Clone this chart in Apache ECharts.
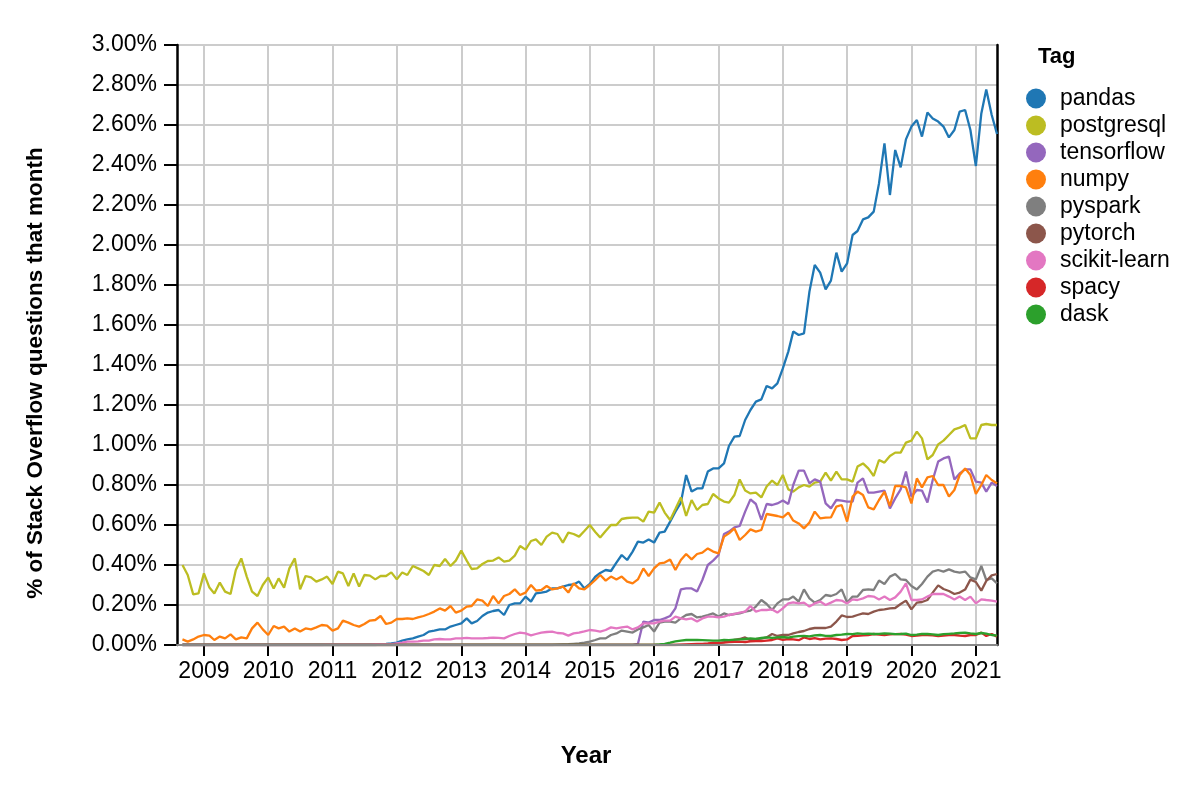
<!DOCTYPE html>
<html><head><meta charset="utf-8">
<script src="https://cdn.jsdelivr.net/npm/echarts@6/dist/echarts.min.js"></script>
<style>html,body{margin:0;padding:0;background:#fff}#c{width:1188px;height:790px}</style>
</head><body><div id="c"></div>
<script>
const tags = ['pandas','postgresql','tensorflow','numpy','pyspark','pytorch','scikit-learn','spacy','dask'];
const colors = ['#1f77b4','#bcbd22','#9467bd','#ff7f0e','#7f7f7f','#8c564b','#e377c2','#d62728','#2ca02c'];
const yearTickLabels = [2009,2010,2011,2012,2013,2014,2015,2016,2017,2018,2019,2020,2021];
// monthly values (% of questions), first month 2008-09, last 2021-05
const pandas = [
0,0,0,0,
0,0,0,0,0,0,0,0,0,0,0,0,
0,0,0,0,0,0,0,0,0,0,0,0,
0,0,0,0,0,0,0,0,0,0.003,0.005,0.008,
0.012,0.022,0.028,0.033,0.042,0.05,0.067,0.072,0.078,0.078,0.092,0.10,
0.108,0.133,0.108,0.12,0.145,0.162,0.17,0.175,0.15,0.20,0.208,0.208,
0.242,0.217,0.258,0.262,0.267,0.283,0.283,0.292,0.30,0.303,0.317,0.283,
0.305,0.342,0.36,0.375,0.37,0.412,0.45,0.425,0.467,0.517,0.512,0.528,
0.512,0.562,0.567,0.617,0.667,0.712,0.85,0.767,0.783,0.783,0.867,0.883,
0.883,0.908,0.995,1.042,1.045,1.125,1.175,1.217,1.228,1.295,1.283,1.308,
1.383,1.467,1.567,1.55,1.558,1.767,1.90,1.862,1.778,1.822,1.962,1.867,
1.908,2.05,2.07,2.128,2.138,2.167,2.308,2.508,2.25,2.475,2.388,2.528,
2.592,2.625,2.542,2.662,2.633,2.617,2.592,2.538,2.575,2.667,2.675,2.575,
2.395,2.658,2.778,2.65,2.555];
const postgresql = [
0.40,0.35,0.253,0.258,
0.358,0.287,0.258,0.312,0.267,0.255,0.375,0.433,0.342,0.267,0.245,0.30,
0.338,0.283,0.333,0.287,0.383,0.433,0.278,0.345,0.338,0.317,0.328,0.342,
0.305,0.367,0.358,0.295,0.358,0.292,0.35,0.347,0.328,0.345,0.345,0.363,
0.328,0.363,0.35,0.395,0.383,0.37,0.35,0.40,0.395,0.43,0.395,0.422,
0.472,0.422,0.38,0.383,0.405,0.42,0.422,0.438,0.417,0.422,0.447,0.495,
0.477,0.52,0.528,0.50,0.542,0.562,0.555,0.512,0.562,0.555,0.542,0.57,
0.60,0.565,0.537,0.57,0.60,0.60,0.63,0.635,0.637,0.637,0.617,0.667,
0.662,0.712,0.662,0.625,0.68,0.738,0.645,0.725,0.675,0.70,0.705,0.755,
0.733,0.717,0.712,0.75,0.828,0.772,0.758,0.762,0.738,0.792,0.822,0.80,
0.85,0.778,0.767,0.788,0.80,0.792,0.812,0.817,0.862,0.822,0.867,0.828,
0.828,0.817,0.892,0.908,0.883,0.845,0.925,0.912,0.945,0.962,0.962,1.012,
1.022,1.067,1.033,0.928,0.95,1.003,1.022,1.05,1.078,1.087,1.10,1.033,
1.033,1.10,1.105,1.10,1.10];
const tensorflow = [
0,0,0,0,
0,0,0,0,0,0,0,0,0,0,0,0,
0,0,0,0,0,0,0,0,0,0,0,0,
0,0,0,0,0,0,0,0,0,0,0,0,
0,0,0,0,0,0,0,0,0,0,0,0,
0,0,0,0,0,0,0,0,0,0,0,0,
0,0,0,0,0,0,0,0,0,0,0,0,
0,0,0,0,0,0,0,0,0,0.005,0.117,0.112,
0.125,0.125,0.133,0.145,0.183,0.278,0.283,0.283,0.267,0.325,0.40,0.422,
0.45,0.555,0.567,0.588,0.595,0.667,0.728,0.705,0.625,0.705,0.70,0.708,
0.722,0.705,0.80,0.872,0.872,0.808,0.828,0.817,0.708,0.683,0.725,0.722,
0.717,0.717,0.812,0.833,0.762,0.762,0.767,0.772,0.683,0.733,0.778,0.867,
0.742,0.775,0.772,0.712,0.825,0.917,0.933,0.942,0.828,0.858,0.878,0.878,
0.817,0.812,0.767,0.812,0.795];
const numpy = [
0.028,0.017,0.028,0.042,
0.05,0.047,0.025,0.042,0.033,0.053,0.028,0.038,0.033,0.083,0.112,0.078,
0.05,0.095,0.083,0.092,0.067,0.083,0.067,0.083,0.078,0.088,0.10,0.097,
0.072,0.083,0.122,0.112,0.10,0.092,0.105,0.122,0.125,0.145,0.105,0.112,
0.13,0.13,0.133,0.13,0.138,0.145,0.155,0.167,0.183,0.172,0.195,0.162,
0.172,0.192,0.195,0.228,0.222,0.195,0.245,0.208,0.245,0.255,0.278,0.25,
0.262,0.30,0.272,0.275,0.295,0.278,0.283,0.292,0.262,0.308,0.283,0.278,
0.30,0.325,0.35,0.322,0.342,0.328,0.342,0.317,0.308,0.328,0.383,0.345,
0.383,0.408,0.412,0.428,0.375,0.425,0.455,0.428,0.455,0.462,0.483,0.467,
0.458,0.542,0.558,0.583,0.525,0.55,0.578,0.567,0.575,0.655,0.65,0.645,
0.638,0.662,0.622,0.608,0.583,0.612,0.667,0.633,0.637,0.638,0.692,0.70,
0.617,0.742,0.767,0.75,0.688,0.678,0.725,0.767,0.695,0.795,0.795,0.788,
0.708,0.833,0.788,0.838,0.845,0.80,0.80,0.742,0.775,0.85,0.883,0.85,
0.755,0.80,0.85,0.825,0.808];
const pyspark = [
0,0,0,0,
0,0,0,0,0,0,0,0,0,0,0,0,
0,0,0,0,0,0,0,0,0,0,0,0,
0,0,0,0,0,0,0,0,0,0,0,0,
0,0,0,0,0,0,0,0,0,0,0,0,
0,0,0,0,0,0,0,0,0,0,0,0,
0,0,0,0,0,0,0.002,0.003,0.004,0.006,0.008,0.012,
0.017,0.025,0.033,0.033,0.05,0.058,0.072,0.067,0.062,0.078,0.088,0.10,
0.067,0.112,0.117,0.117,0.112,0.133,0.15,0.155,0.138,0.142,0.15,0.158,
0.142,0.158,0.15,0.155,0.158,0.167,0.172,0.192,0.225,0.205,0.175,0.208,
0.228,0.228,0.242,0.217,0.278,0.233,0.212,0.225,0.25,0.245,0.255,0.278,
0.212,0.242,0.242,0.275,0.278,0.275,0.322,0.305,0.342,0.355,0.328,0.325,
0.295,0.278,0.305,0.342,0.367,0.375,0.367,0.378,0.367,0.362,0.367,0.338,
0.328,0.395,0.325,0.333,0.308];
const pytorch = [
0,0,0,0,
0,0,0,0,0,0,0,0,0,0,0,0,
0,0,0,0,0,0,0,0,0,0,0,0,
0,0,0,0,0,0,0,0,0,0,0,0,
0,0,0,0,0,0,0,0,0,0,0,0,
0,0,0,0,0,0,0,0,0,0,0,0,
0,0,0,0,0,0,0,0,0,0,0,0,
0,0,0,0,0,0,0,0,0,0,0,0,
0,0,0,0,0,0,0,0,0,0,0,0,
0.008,0.014,0.02,0.026,0.03,0.038,0.024,0.03,0.032,0.038,0.055,0.045,
0.05,0.05,0.058,0.065,0.07,0.08,0.085,0.085,0.085,0.092,0.117,0.148,
0.14,0.142,0.15,0.158,0.155,0.167,0.175,0.178,0.183,0.185,0.205,0.222,
0.178,0.212,0.215,0.225,0.262,0.298,0.28,0.27,0.255,0.262,0.277,0.327,
0.315,0.272,0.32,0.348,0.355];
const scikitLearn = [
0,0,0,0,
0,0,0,0,0,0,0,0,0,0,0,0,
0,0,0,0,0,0,0,0,0,0,0,0.002,
0.002,0.002,0.002,0.002,0.002,0.002,0.002,0.002,0.004,0.004,0.004,0.004,
0.008,0.012,0.017,0.017,0.018,0.022,0.022,0.028,0.03,0.028,0.028,0.033,
0.033,0.036,0.033,0.033,0.033,0.035,0.037,0.036,0.033,0.045,0.055,0.062,
0.058,0.048,0.055,0.062,0.065,0.067,0.06,0.058,0.047,0.058,0.062,0.068,
0.075,0.072,0.067,0.075,0.088,0.083,0.088,0.092,0.078,0.088,0.108,0.108,
0.108,0.117,0.122,0.122,0.142,0.133,0.128,0.133,0.117,0.133,0.142,0.142,
0.138,0.142,0.15,0.155,0.162,0.167,0.195,0.167,0.175,0.175,0.178,0.162,
0.183,0.208,0.213,0.208,0.212,0.192,0.208,0.217,0.20,0.212,0.225,0.222,
0.208,0.228,0.225,0.233,0.245,0.242,0.228,0.242,0.225,0.238,0.267,0.308,
0.225,0.225,0.228,0.242,0.255,0.255,0.255,0.242,0.228,0.242,0.225,0.242,
0.208,0.228,0.225,0.222,0.217];
const spacy = [
0,0,0,0,
0,0,0,0,0,0,0,0,0,0,0,0,
0,0,0,0,0,0,0,0,0,0,0,0,
0,0,0,0,0,0,0,0,0,0,0,0,
0,0,0,0,0,0,0,0,0,0,0,0,
0,0,0,0,0,0,0,0,0,0,0,0,
0,0,0,0,0,0,0,0,0,0,0,0,
0,0,0,0,0,0,0,0,0,0,0,0,
0,0,0,0,0,0.002,0.003,0.004,0.005,0.006,0.008,0.01,
0.011,0.012,0.014,0.016,0.017,0.015,0.018,0.02,0.019,0.022,0.025,0.033,
0.026,0.03,0.028,0.024,0.038,0.03,0.034,0.028,0.032,0.033,0.03,0.025,
0.028,0.045,0.046,0.048,0.05,0.055,0.052,0.05,0.053,0.054,0.055,0.052,
0.045,0.047,0.05,0.05,0.048,0.045,0.047,0.05,0.05,0.047,0.045,0.05,
0.05,0.062,0.045,0.055,0.042];
const dask = [
0,0,0,0,
0,0,0,0,0,0,0,0,0,0,0,0,
0,0,0,0,0,0,0,0,0,0,0,0,
0,0,0,0,0,0,0,0,0,0,0,0,
0,0,0,0,0,0,0,0,0,0,0,0,
0,0,0,0,0,0,0,0,0,0,0,0,
0,0,0,0,0,0,0,0,0,0,0,0,
0,0,0,0,0,0,0,0,0,0,0,0,
0,0.003,0.006,0.012,0.018,0.022,0.025,0.026,0.025,0.024,0.023,0.022,
0.022,0.025,0.024,0.027,0.028,0.03,0.033,0.031,0.035,0.038,0.036,0.038,
0.04,0.037,0.042,0.044,0.045,0.043,0.048,0.05,0.046,0.045,0.05,0.052,
0.055,0.054,0.058,0.056,0.057,0.055,0.056,0.058,0.057,0.054,0.055,0.057,
0.05,0.052,0.056,0.055,0.053,0.05,0.054,0.056,0.058,0.06,0.062,0.058,
0.055,0.06,0.057,0.05,0.047];
const seriesValues = [pandas, postgresql, tensorflow, numpy, pyspark, pytorch, scikitLearn, spacy, dask];

const FONT = '"Liberation Sans", Arial, Helvetica, sans-serif';
function monthTime(i){ return Date.UTC(2008, 8 + i, 1); } // index 0 = Sep 2008
const yearTicks = yearTickLabels.map(y => Date.UTC(y, 0, 1));
const xMin = Date.UTC(2008, 7, 1), xMax = Date.UTC(2021, 4, 1);

const chart = echarts.init(document.getElementById('c'), null, {renderer:'canvas'});
chart.setOption({
  animation: false,
  backgroundColor: '#fff',
  grid: {left: 177, right: 191, top: 45, bottom: 145, containLabel: false},
  xAxis: [{
    type: 'value', min: xMin, max: xMax, position: 'bottom',
    axisLine: {show: false},
    axisTick: {show: true, length: 11, lineStyle: {color: '#000', width: 2}, customValues: yearTicks},
    axisLabel: {customValues: yearTicks, formatter: v => String(new Date(v).getUTCFullYear()),
      fontSize: 23, color: '#000', fontFamily: FONT, margin: 15},
    splitLine: {show: true, lineStyle: {color: '#cccccc', width: 2}}
  }, {
    type: 'value', min: xMin, max: xMax, position: 'bottom', offset: 0, z: 5,
    axisLine: {show: true, onZero: false, lineStyle: {color: '#888', width: 2}},
    axisTick: {show: false}, axisLabel: {show: false}, splitLine: {show: false}
  }],
  yAxis: [{
    type: 'value', min: 0, max: 3, interval: 0.2, position: 'left',
    axisLine: {show: true, lineStyle: {color: '#000', width: 2.5}},
    axisTick: {show: true, length: 13, lineStyle: {color: '#000', width: 2}},
    axisLabel: {formatter: v => v.toFixed(2) + '%', fontSize: 23, color: '#000', fontFamily: FONT, margin: 20},
    splitLine: {show: true, lineStyle: {color: '#cccccc', width: 2}}
  }, {
    type: 'value', min: 0, max: 3, position: 'right',
    axisLine: {show: true, lineStyle: {color: '#000', width: 2.5}},
    axisTick: {show: false}, axisLabel: {show: false}, splitLine: {show: false}
  }],
  legend: {
    orient: 'vertical', left: 1026, top: 87, padding: 0,
    itemWidth: 20, itemHeight: 20, itemGap: 4,
    data: tags.map(n => ({name: n, icon: 'circle'})),
    textStyle: {fontSize: 23, fontFamily: FONT, color: '#000', lineHeight: 20, padding: [0, 0, 0, 9]},
    selectedMode: false
  },
  graphic: [
    {type: 'text', x: 36, y: 373, rotation: Math.PI / 2,
      style: {text: '% of Stack Overflow questions that month', fontSize: 22.5, fontWeight: 'bold', fontFamily: FONT, fill: '#000', align: 'center', verticalAlign: 'middle'}},
    {type: 'text', x: 586, y: 756,
      style: {text: 'Year', fontSize: 24, fontWeight: 'bold', fontFamily: FONT, fill: '#000', align: 'center', verticalAlign: 'middle'}},
    {type: 'text', x: 1038, y: 57,
      style: {text: 'Tag', fontSize: 22, fontWeight: 'bold', fontFamily: FONT, fill: '#000', align: 'left', verticalAlign: 'middle'}}
  ],
  series: tags.map((name, k) => ({
    name, type: 'line', symbol: 'none', showSymbol: false,
    data: seriesValues[k].map((v, i) => [monthTime(i), v]),
    lineStyle: {width: 2.3, color: colors[k]}, itemStyle: {color: colors[k]},
    emphasis: {disabled: true}
  }))
});
</script></body></html>
